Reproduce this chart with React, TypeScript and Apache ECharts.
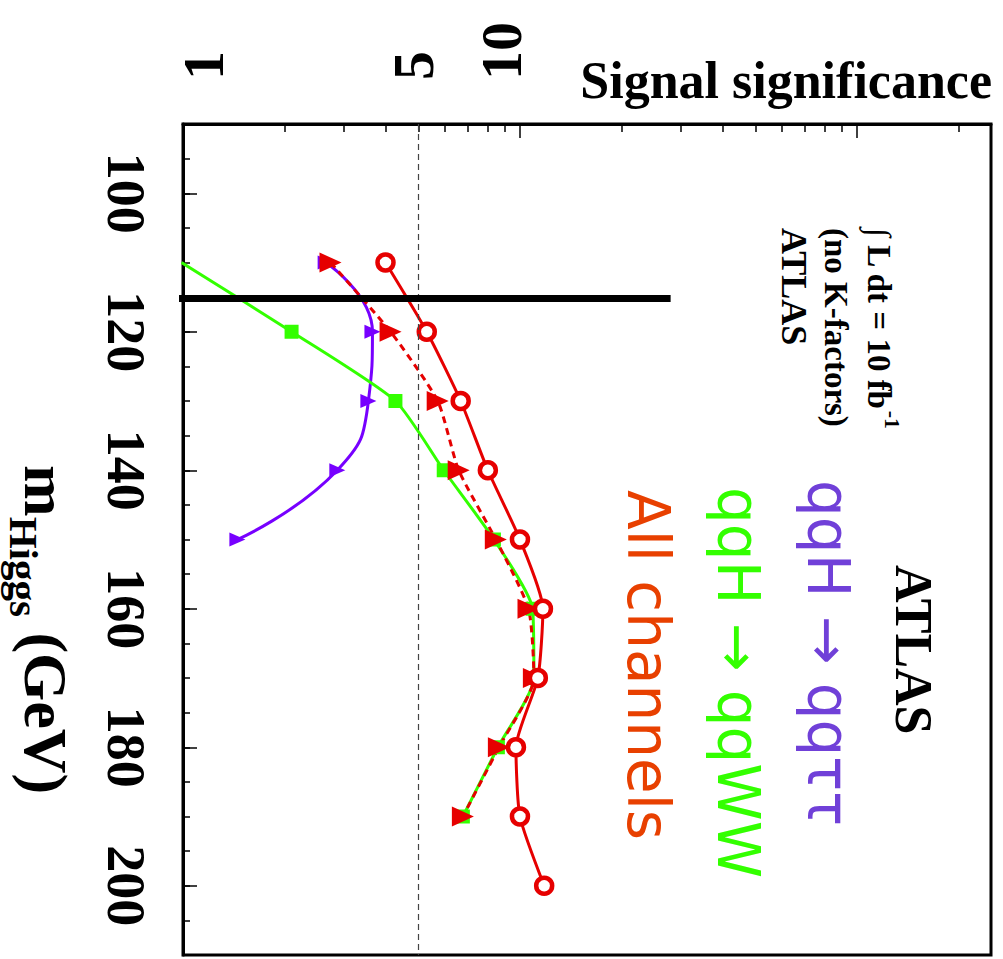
import React, { useEffect, useRef } from "react";
import * as echarts from "echarts";

// ---- data (signal significance vs Higgs mass) ----
const TT_MASS = [110, 120, 130, 140, 150];
const TT_SIG = [2.65, 3.65, 3.55, 2.87, 1.45]; // qqH -> qq tau tau

const WW_MASS = [110, 120, 130, 140, 150, 160, 170, 180, 190];
const WW_SIG = [0.99, 2.1, 4.27, 5.94, 8.37, 10.9, 11.0, 8.6, 6.77]; // qqH -> qqWW

const VBF_MASS = [110, 120, 130, 140, 150, 160, 170, 180, 190];
const VBF_SIG = [2.74, 4.13, 5.7, 6.58, 8.48, 10.6, 11.0, 8.66, 6.77]; // VBF combined

const ALL_MASS = [110, 120, 130, 140, 150, 160, 170, 180, 190, 200];
const ALL_SIG = [3.99, 5.29, 6.67, 8.03, 10.0, 11.7, 11.3, 9.73, 10.0, 11.8]; // all channels

const DISCOVERY_SIG = 5;
const CUT_LINE = [
  [0.89, 115.2],
  [28, 115.2],
];

const SIG_LABELS = [1, 5, 10];
const SIG_MINOR_TICKS = [2, 3, 4, 5, 6, 7, 8, 9, 20, 30, 40, 50, 60, 70, 80, 90, 200];
const MASS_LABELS = [100, 120, 140, 160, 180, 200];

const SIG_MIN = 1;
const SIG_MAX = 250;
const MASS_MIN = 90;
const MASS_MAX = 210;

const pairs = (xs: number[], ys: number[]) => xs.map((m, i) => [ys[i], m]);

const SERIF = "'Liberation Serif', 'Times New Roman', serif";
const RED = "#e60000";
const PURPLE = "#7700ff";
const GREEN = "#33ff00";

export default function App() {
  const ref = useRef<HTMLDivElement>(null);

  useEffect(() => {
    if (!ref.current) return;
    const chart = echarts.init(ref.current, undefined, { renderer: "svg" });
    const labelFont = {
      fontFamily: SERIF,
      fontWeight: "bold" as const,
      fontSize: 54,
      color: "#000",
    };
    const topFont = { ...labelFont, fontSize: 58 };
    const topRich = {
      l1: { ...topFont, padding: [41, 0, 0, 0] },
      l5: { ...topFont, padding: [0, 0, 11, 0] },
      l10: { ...topFont, padding: [0, 0, 37, 0] },
    };
    const rot = -Math.PI / 2;
    chart.setOption({
      animation: false,
      grid: {
        left: 183,
        top: 124,
        width: 808,
        height: 831,
        show: true,
        borderColor: "#000",
        borderWidth: 3,
      },
      xAxis: [
        {
          type: "log",
          logBase: 10,
          min: SIG_MIN,
          max: SIG_MAX,
          position: "top",
          axisLine: { show: true, lineStyle: { color: "#000", width: 3 } },
          axisTick: { show: true, inside: true, length: 14, lineStyle: { color: "#000", width: 1.5 } },
          axisLabel: { show: false },
          splitLine: { show: false },
          minorTick: { show: false },
        },
        {
          type: "value",
          min: Math.log10(SIG_MIN),
          max: Math.log10(SIG_MAX),
          position: "top",
          axisLine: { show: false },
          axisTick: {
            show: true,
            inside: true,
            length: 8,
            customValues: SIG_MINOR_TICKS.map((v) => Math.log10(v)),
            lineStyle: { color: "#000", width: 1.5 },
          },
          axisLabel: {
            show: true,
            customValues: SIG_LABELS.map((v) => Math.log10(v)),
            formatter: (v: number) => {
              const n = Math.round(Math.pow(10, v));
              return `{l${n}|${n}}`;
            },
            rich: topRich,
            rotate: -90,
            margin: 44,
            ...topFont,
          },
          splitLine: { show: false },
        },
      ],
      yAxis: [
        {
          type: "value",
          inverse: true,
          min: MASS_MIN,
          max: MASS_MAX,
          interval: 5,
          position: "left",
          axisLine: { show: true, lineStyle: { color: "#000", width: 3 } },
          axisTick: { show: true, inside: true, length: 7, lineStyle: { color: "#000", width: 1.5 } },
          axisLabel: {
            show: true,
            customValues: MASS_LABELS,
            rotate: -90,
            margin: 30,
            ...labelFont,
          },
          splitLine: { show: false },
        },
        {
          type: "value",
          inverse: true,
          min: MASS_MIN,
          max: MASS_MAX,
          position: "left",
          axisLine: { show: false },
          axisTick: {
            show: true,
            inside: true,
            length: 14,
            customValues: MASS_LABELS,
            lineStyle: { color: "#000", width: 1.5 },
          },
          axisLabel: { show: false },
          splitLine: { show: false },
        },
      ],
      series: [
        {
          name: "qqH → qqττ",
          type: "line",
          data: pairs(TT_MASS, TT_SIG),
          smooth: 0.5,
          symbol: "triangle",
          symbolSize: [14, 16],
          symbolRotate: -90,
          lineStyle: { color: PURPLE, width: 3 },
          itemStyle: { color: PURPLE },
          markLine: {
            silent: true,
            symbol: "none",
            label: { show: false },
            lineStyle: { color: "#444", width: 1.2, type: [6, 4] },
            data: [{ xAxis: DISCOVERY_SIG }],
          },
        },
        {
          name: "qqH → qqWW",
          type: "line",
          data: pairs(WW_MASS, WW_SIG),
          smooth: 0.2,
          symbol: "rect",
          symbolSize: 14,
          lineStyle: { color: GREEN, width: 3 },
          itemStyle: { color: GREEN },
        },
        {
          name: "VBF",
          type: "line",
          data: pairs(VBF_MASS, VBF_SIG),
          smooth: 0.2,
          symbol: "triangle",
          symbolSize: [20, 22],
          symbolRotate: -90,
          lineStyle: { color: RED, width: 3, type: [7, 5] },
          itemStyle: { color: RED },
        },
        {
          name: "All channels",
          type: "line",
          data: pairs(ALL_MASS, ALL_SIG),
          smooth: 0.2,
          symbol: "circle",
          symbolSize: 16,
          lineStyle: { color: RED, width: 3 },
          itemStyle: { color: "#fff", borderColor: RED, borderWidth: 4.5 },
        },
        {
          name: "cut",
          type: "line",
          data: CUT_LINE,
          clip: false,
          symbol: "none",
          z: 10,
          lineStyle: { color: "#000", width: 7 },
        },
      ],
      graphic: [
        {
          type: "text",
          x: 992,
          y: 80,
          style: {
            text: "Signal significance",
            font: `bold 52px ${SERIF}`,
            fill: "#000",
            align: "right",
            verticalAlign: "middle",
          },
        },
        {
          type: "text",
          x: 77,
          y: 465,
          rotation: rot,
          style: {
            text: "{m|m}{s|Higgs}{m| (GeV)}",
            align: "left",
            verticalAlign: "top",
            fill: "#000",
            rich: {
              m: { fontFamily: SERIF, fontWeight: "bold", fontSize: 62, lineHeight: 62, verticalAlign: "top" },
              s: {
                fontFamily: SERIF,
                fontWeight: "bold",
                fontSize: 41,
                lineHeight: 41,
                verticalAlign: "top",
                padding: [33, 0, 0, 0],
              },
            },
          },
        },
        {
          type: "text",
          x: 913,
          y: 565,
          rotation: rot,
          style: {
            text: "ATLAS",
            font: `bold 52px ${SERIF}`,
            fill: "#000",
            align: "left",
            verticalAlign: "middle",
          },
        },
        {
          type: "text",
          x: 903,
          y: 228,
          rotation: rot,
          style: {
            text: "{a|∫ L dt = 10 fb}{b|-1}",
            align: "left",
            verticalAlign: "top",
            fill: "#000",
            rich: {
              a: {
                fontFamily: SERIF,
                fontWeight: "bold",
                fontSize: 33,
                lineHeight: 33,
                verticalAlign: "top",
                padding: [8, 0, 0, 0],
              },
              b: { fontFamily: SERIF, fontWeight: "bold", fontSize: 22, lineHeight: 22, verticalAlign: "top" },
            },
          },
        },
        {
          type: "text",
          x: 836,
          y: 228,
          rotation: rot,
          style: {
            text: "(no K-factors)",
            font: `bold 33px ${SERIF}`,
            fill: "#000",
            align: "left",
            verticalAlign: "middle",
          },
        },
        {
          type: "text",
          x: 794,
          y: 228,
          rotation: rot,
          style: {
            text: "ATLAS",
            font: `bold 36px ${SERIF}`,
            fill: "#000",
            align: "left",
            verticalAlign: "middle",
          },
        },
        {
          type: "text",
          x: 828,
          y: 480,
          rotation: rot,
          style: {
            text: "qqH → qqττ",
            font: "58px 'DejaVu Sans', sans-serif",
            fill: "#7040d8",
            align: "left",
            verticalAlign: "middle",
          },
        },
        {
          type: "text",
          x: 738,
          y: 487,
          rotation: rot,
          style: {
            text: "qqH → qqWW",
            font: "58px 'DejaVu Sans', sans-serif",
            fill: GREEN,
            align: "left",
            verticalAlign: "middle",
          },
        },
        {
          type: "text",
          x: 648,
          y: 490,
          rotation: rot,
          style: {
            text: "All channels",
            font: "58px 'DejaVu Sans', sans-serif",
            fill: "#e84000",
            align: "left",
            verticalAlign: "middle",
          },
        },
      ],
    });
    return () => chart.dispose();
  }, []);

  return (
    <div
      ref={ref}
      style={{ position: "fixed", left: 0, top: 0, width: 1003, height: 959, background: "#fff" }}
    />
  );
}
